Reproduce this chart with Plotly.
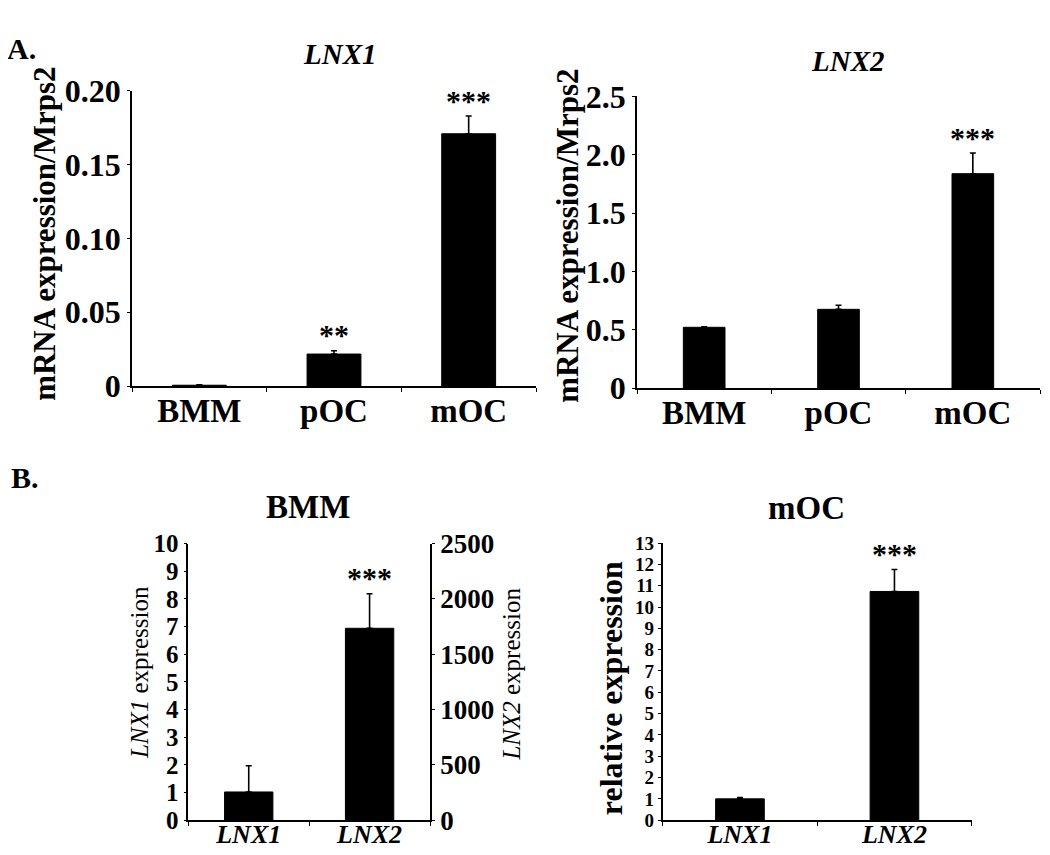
import plotly.graph_objects as go

W, H = 1050, 855
FONT = "'Liberation Serif', 'Times New Roman', Times, serif"

# ---------------- data ----------------
a_categories = ["BMM", "pOC", "mOC"]
lnx1_values = [0.0006, 0.0217, 0.1708]
lnx1_errors = [0.0003, 0.0022, 0.0120]
lnx1_sig = ["", "**", "***"]

lnx2_values = [0.521, 0.675, 1.837]
lnx2_errors = [0.005, 0.035, 0.177]
lnx2_sig = ["", "", "***"]

b_categories = ["LNX1", "LNX2"]
bmm_lnx1_value = [1.02]
bmm_lnx1_error = [0.95]
bmm_lnx2_value = [1735]
bmm_lnx2_error = [312]
bmm_sig = ["", "***"]

moc_values = [1.0, 10.73]
moc_errors = [0.06, 1.03]
moc_sig = ["", "***"]

a1_ticks = [0, 0.05, 0.10, 0.15, 0.20]
a1_ticktext = ["0", "0.05", "0.10", "0.15", "0.20"]
a2_ticks = [0, 0.5, 1.0, 1.5, 2.0, 2.5]
a2_ticktext = ["0", "0.5", "1.0", "1.5", "2.0", "2.5"]

# page placement of the figure inside the photographed window
X0, Y0, HS = 8.0, 26.5, 817.6


def px(x):
    return (x - X0) / W


def py(y):
    return 1 - (y - Y0) / HS


def bar(x, y, err, xa, ya, width):
    return go.Bar(
        x=x, y=y, xaxis=xa, yaxis=ya, width=width, offset=-width / 2,
        marker=dict(color="black", line=dict(color="black", width=1)),
        error_y=dict(type="data", array=err, arrayminus=[0] * len(err),
                     symmetric=False, color="black", thickness=1.6, width=3),
        showlegend=False, hoverinfo="x+y",
    )


fig = go.Figure()
fig.add_trace(bar(a_categories, lnx1_values, lnx1_errors, "x", "y", 0.4))
fig.add_trace(bar(a_categories, lnx2_values, lnx2_errors, "x2", "y2", 0.31))
fig.add_trace(bar(b_categories[:1], bmm_lnx1_value, bmm_lnx1_error, "x3", "y3", 0.4))
fig.add_trace(bar(b_categories[1:], bmm_lnx2_value, bmm_lnx2_error, "x3", "y5", 0.4))
fig.add_trace(bar(b_categories, moc_values, moc_errors, "x4", "y4", 0.315))

axis_common = dict(showline=True, linecolor="black", linewidth=1.6, ticks="outside",
                   tickcolor="black", tickwidth=1.4, ticklen=4, showgrid=False,
                   zeroline=False, fixedrange=True)


def xcat(domain, anchor, cats, size, style="normal", standoff=-6):
    return dict(axis_common, domain=domain, anchor=anchor, type="category",
                categoryorder="array", categoryarray=cats,
                range=[-0.5, len(cats) - 0.5], tickson="boundaries",
                ticklabelstandoff=standoff,
                tickfont=dict(family=FONT, size=size, color="black",
                              weight="bold", style=style))


def ynum(domain, anchor, rng, size, **kw):
    d = dict(axis_common, domain=domain, anchor=anchor, range=rng,
             tickfont=dict(family=FONT, size=size, color="black", weight="bold"),
             ticklen=3)
    d.update(kw)
    return d


yA1 = [py(386), py(91)]
yA2 = [py(388), py(96.7)]
yB1 = [py(819.3), py(543.3)]
yB2 = [py(819.3), py(542.7)]

fig.update_layout(
    width=W, height=H, margin=dict(l=0, r=0, t=0, b=0), autosize=False,
    paper_bgcolor="white", plot_bgcolor="white", barmode="overlay",
    xaxis=xcat([px(132), px(536)], "y", a_categories, 33),
    yaxis=ynum(yA1, "x", [0, 0.2], 32, tickmode="array",
               tickvals=a1_ticks, ticktext=a1_ticktext),
    xaxis2=xcat([px(637), px(1040)], "y2", a_categories, 33),
    yaxis2=ynum(yA2, "x2", [0, 2.5], 32, tickmode="array",
                tickvals=a2_ticks, ticktext=a2_ticktext),
    xaxis3=xcat([px(188.3), px(430)], "y3", b_categories, 26, "italic", -10),
    yaxis3=ynum(yB1, "x3", [0, 10], 25, dtick=1),
    yaxis5=ynum(yB1, "x3", [0, 2500], 27, dtick=500, overlaying="y3",
                side="right"),
    xaxis4=xcat([px(662.7), px(971.7)], "y4", b_categories, 26, "italic", -10),
    yaxis4=ynum(yB2, "x4", [0, 13], 19, dtick=1),
)

ann = []


def text(x, y, s, size, weight="bold", style="normal", angle=0):
    ann.append(dict(x=px(x), y=py(y), xref="paper", yref="paper", text=s,
                    showarrow=False, textangle=angle, xanchor="center",
                    yanchor="middle",
                    font=dict(family=FONT, size=size, color="black",
                              weight=weight, style=style)))


text(21, 49, "A.", 30)
text(25, 477, "B.", 30)
text(340, 54.5, "LNX1", 29, style="italic")
text(848, 61.7, "LNX2", 29, style="italic")
text(308, 506.7, "BMM", 33)
text(806.7, 508, "mOC", 33)

text(45, 234, "mRNA expression/Mrps2", 31, angle=-90)
text(568, 236, "mRNA expression/Mrps2", 31, angle=-90)
text(139, 672.5, "<i>LNX1</i> expression", 25, weight="normal", angle=-90)
text(512, 674, "<i>LNX2</i> expression", 25, weight="normal", angle=-90)
text(611, 687.5, "relative expression", 32, angle=-90)


def sig(xref, yref, cats, vals, errs, marks):
    for c, v, e, m in zip(cats, vals, errs, marks):
        if m:
            ann.append(dict(x=c, y=v + e, xref=xref, yref=yref, text=m,
                            showarrow=False, xanchor="center", yanchor="middle",
                            yshift=16,
                            font=dict(family=FONT, size=30, color="black",
                                      weight="bold")))


sig("x", "y", a_categories, lnx1_values, lnx1_errors, lnx1_sig)
sig("x2", "y2", a_categories, lnx2_values, lnx2_errors, lnx2_sig)
sig("x3", "y5", b_categories[1:], bmm_lnx2_value, bmm_lnx2_error, bmm_sig[1:])
sig("x4", "y4", b_categories, moc_values, moc_errors, moc_sig)

fig.update_layout(annotations=ann)
fig.write_html("out.html")
